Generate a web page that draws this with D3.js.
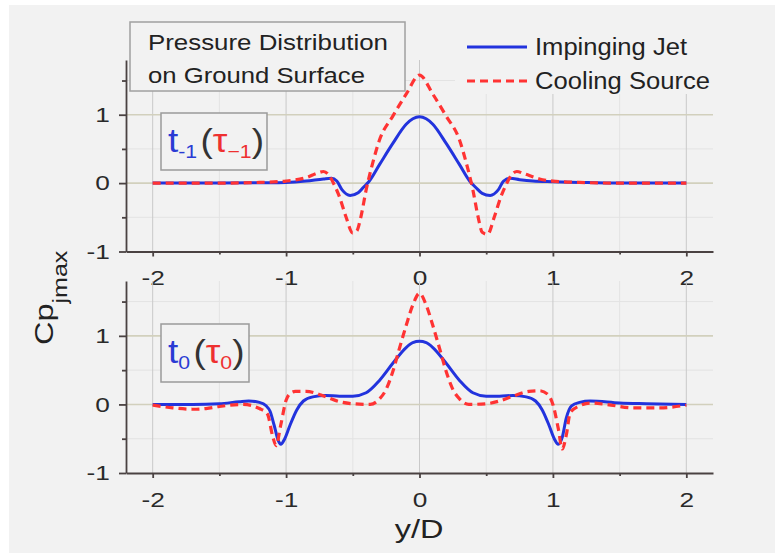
<!DOCTYPE html>
<html><head><meta charset="utf-8">
<script src="https://cdn.jsdelivr.net/npm/d3@7"></script>
<style>
body{margin:0;background:#fff;}
svg{display:block;}
text{font-family:"Liberation Sans",Arial,Helvetica,sans-serif;}
</style>
</head><body>
<svg id="chart" width="775" height="556"></svg>
<script>
// ---------------- data ----------------
const xTicks = [-2, -1, 0, 1, 2];
const xMinorTicks = [-1.5, -0.5, 0.5, 1.5];
const yTicks = [-1, 0, 1];
const yMinorTicks = [-0.5, 0.5, 1.5];
const seriesNames = ["Impinging Jet", "Cooling Source"];
const titleLines = ["Pressure Distribution", "on Ground Surface"];

// top panel t_-1 (tau_-1)
const topJetX  = [-2, -1.5, -1.2, -1.0, -0.85, -0.72, -0.66, -0.62, -0.58, -0.52, -0.46, -0.42, -0.38, -0.3, -0.2, -0.1, -0.05, 0,
                  0.05, 0.1, 0.2, 0.3, 0.38, 0.42, 0.47, 0.53, 0.59, 0.63, 0.68, 0.75, 0.85, 1.0, 1.2, 1.5, 2];
const topJetY  = [0, 0, 0.005, 0.01, 0.03, 0.06, 0.07, 0.03, -0.1, -0.18, -0.14, -0.06, 0.02, 0.27, 0.58, 0.86, 0.94, 0.97,
                  0.94, 0.86, 0.58, 0.27, 0.02, -0.06, -0.15, -0.18, -0.1, 0.03, 0.07, 0.05, 0.03, 0.02, 0.01, 0, 0];
const topCoolX = [-2, -1.5, -1.2, -1.0, -0.85, -0.76, -0.72, -0.68, -0.64, -0.6, -0.55, -0.5, -0.47, -0.44, -0.4, -0.35, -0.3, -0.2, -0.1, 0,
                  0.1, 0.2, 0.3, 0.35, 0.4, 0.44, 0.47, 0.51, 0.56, 0.61, 0.65, 0.69, 0.73, 0.78, 0.9, 1.0, 1.2, 1.5, 2];
const topCoolY = [0, 0, 0.01, 0.03, 0.08, 0.15, 0.17, 0.12, -0.02, -0.2, -0.5, -0.73, -0.7, -0.5, -0.1, 0.3, 0.63, 0.98, 1.3, 1.58,
                  1.3, 0.98, 0.63, 0.3, -0.1, -0.5, -0.72, -0.75, -0.5, -0.2, -0.02, 0.12, 0.17, 0.14, 0.06, 0.03, 0.01, 0, 0];

// bottom panel t_0 (tau_0)
const botJetX  = [-2, -1.7, -1.5, -1.35, -1.28, -1.2, -1.15, -1.12, -1.09, -1.06, -1.04, -1.01, -0.97, -0.92, -0.87, -0.8, -0.7, -0.6, -0.5, -0.4, -0.3, -0.2, -0.1, -0.05, 0,
                  0.05, 0.1, 0.2, 0.3, 0.4, 0.5, 0.6, 0.7, 0.8, 0.87, 0.92, 0.97, 1.01, 1.04, 1.07, 1.1, 1.14, 1.2, 1.28, 1.5, 1.7, 2];
const botJetY  = [0, 0, 0.01, 0.04, 0.05, 0.03, -0.02, -0.1, -0.3, -0.52, -0.58, -0.5, -0.3, -0.08, 0.05, 0.11, 0.13, 0.12, 0.12, 0.17, 0.35, 0.6, 0.83, 0.9, 0.92,
                  0.9, 0.83, 0.6, 0.35, 0.17, 0.12, 0.12, 0.13, 0.11, 0.05, -0.08, -0.3, -0.5, -0.58, -0.48, -0.2, -0.02, 0.03, 0.05, 0.02, 0.01, 0];
const botCoolX = [-2, -1.85, -1.7, -1.6, -1.5, -1.32, -1.2, -1.14, -1.1, -1.075, -1.04, -1.0, -0.97, -0.93, -0.85, -0.7, -0.6, -0.5, -0.37, -0.3, -0.25, -0.2, -0.15, -0.1, -0.05, 0,
                  0.05, 0.1, 0.15, 0.2, 0.25, 0.3, 0.37, 0.5, 0.6, 0.7, 0.82, 0.9, 0.96, 1.0, 1.04, 1.07, 1.1, 1.13, 1.2, 1.28, 1.4, 1.6, 1.8, 2];
const botCoolY = [-0.01, -0.05, -0.07, -0.06, -0.03, 0.0, -0.06, -0.14, -0.47, -0.6, -0.3, 0.06, 0.16, 0.19, 0.19, 0.11, 0.04, 0.01, 0.0, 0.08, 0.22, 0.48, 0.82, 1.15, 1.45, 1.62,
                  1.45, 1.15, 0.82, 0.48, 0.22, 0.08, 0.0, 0.01, 0.05, 0.12, 0.19, 0.2, 0.15, 0.0, -0.35, -0.65, -0.45, -0.12, -0.02, 0.02, 0.0, -0.05, -0.05, -0.01];

// ---------------- drawing ----------------
const svg = d3.select("#chart");
const BG = "#f2f2f2";
const BLUE = "#2233dd", RED = "#ff3333";
const SX = 1.25; // horizontal stretch of the lettering in the original
svg.append("rect").attr("x", 9).attr("y", 5).attr("width", 766).attr("height", 548).attr("fill", BG);

const x = d3.scaleLinear().domain([-2.2, 2.2]).range([126, 713]);
const zip = (xs, ys) => xs.map((v, i) => [v, ys[i]]);

const panels = [
  { y: d3.scaleLinear().domain([-1, 1.8]).range([251.5, 60]),
    jet: zip(topJetX, topJetY), cool: zip(topCoolX, topCoolY), sub1: "-1", sub2: "\u22121",
    box: { x: 161, y: 113, w: 106, h: 57 } },
  { y: d3.scaleLinear().domain([-1, 1.8]).range([473, 281]),
    jet: zip(botJetX, botJetY), cool: zip(botCoolX, botCoolY), sub1: "0", sub2: "0",
    box: { x: 161, y: 324, w: 88, h: 58 } }
];

panels.forEach(p => {
  const y = p.y;
  const g = svg.append("g");
  const [yb, yt] = y.range();
  // minor grid
  g.selectAll(".vm").data(xMinorTicks).join("line")
    .attr("x1", d => x(d)).attr("x2", d => x(d)).attr("y1", yt).attr("y2", yb)
    .attr("stroke", "#e3e3e3").attr("stroke-width", 1);
  g.selectAll(".hm").data(yMinorTicks).join("line")
    .attr("x1", x(-2.2)).attr("x2", x(2.2)).attr("y1", d => y(d)).attr("y2", d => y(d))
    .attr("stroke", "#e3e3e3").attr("stroke-width", 1);
  // major grid
  g.selectAll(".vM").data(xTicks).join("line")
    .attr("x1", d => x(d)).attr("x2", d => x(d)).attr("y1", yt).attr("y2", yb)
    .attr("stroke", "#c9c9c9").attr("stroke-width", 1);
  g.selectAll(".hM").data(yTicks.filter(d => d > -1)).join("line")
    .attr("x1", x(-2.2)).attr("x2", x(2.2)).attr("y1", d => y(d)).attr("y2", d => y(d))
    .attr("stroke", "#d2d0bd").attr("stroke-width", 1.6);

  // label box t(tau)
  g.append("rect").attr("x", p.box.x).attr("y", p.box.y).attr("width", p.box.w).attr("height", p.box.h)
    .attr("fill", BG).attr("stroke", "#9a9a9a").attr("stroke-width", 1.5);
  const t = g.append("text")
    .attr("transform", `translate(${p.box.x + 7},${p.box.y + 39}) scale(1.12,1)`)
    .attr("font-size", 33).attr("fill", "#333");
  t.append("tspan").attr("fill", "#2a3bd4").text("t");
  t.append("tspan").attr("fill", "#2a3bd4").attr("font-size", 19).attr("dy", 6).text(p.sub1);
  t.append("tspan").attr("dy", -6).attr("dx", 3).text("(");
  t.append("tspan").attr("fill", "#ee3030").text("\u03c4");
  t.append("tspan").attr("fill", "#ee3030").attr("font-size", 19).attr("dy", 6).text(p.sub2);
  t.append("tspan").attr("dy", -6).text(")");

  // curves
  const line = d3.line().x(d => x(d[0])).y(d => y(d[1])).curve(d3.curveMonotoneX);
  g.append("path").datum(p.jet).attr("d", line).attr("fill", "none")
    .attr("stroke", BLUE).attr("stroke-width", 3).attr("stroke-linejoin", "round");
  g.append("path").datum(p.cool).attr("d", line).attr("fill", "none")
    .attr("stroke", RED).attr("stroke-width", 3.2).attr("stroke-dasharray", "8,5");

  // axes
  const ax = g.append("g").attr("transform", `translate(0,${yb})`)
    .call(d3.axisBottom(x).tickValues(xTicks).tickFormat(d => String(d)).tickSize(5).tickSizeOuter(0).tickPadding(14));
  const axm = g.append("g").attr("transform", `translate(0,${yb})`)
    .call(d3.axisBottom(x).tickValues(xMinorTicks).tickFormat("").tickSize(3).tickSizeOuter(0));
  const ay = g.append("g").attr("transform", `translate(${x(-2.2)},0)`)
    .call(d3.axisLeft(y).tickValues(yTicks).tickFormat(d => String(d)).tickSize(7).tickSizeOuter(0).tickPadding(6));
  const aym = g.append("g").attr("transform", `translate(${x(-2.2)},0)`)
    .call(d3.axisLeft(y).tickValues(yMinorTicks).tickFormat("").tickSize(4).tickSizeOuter(0));
  [ax, axm, ay, aym].forEach(a => {
    a.selectAll("path,line").attr("stroke", "#4a4242").attr("stroke-width", 1.8);
    a.selectAll("text").attr("fill", "#2a2a2a").attr("font-size", 21)
      .attr("font-family", "'Liberation Sans',Arial,sans-serif")
      .attr("transform", `scale(${SX},1)`);
  });
  axm.select(".domain").remove();
  aym.select(".domain").remove();
});

// title box
const tb = svg.append("g");
tb.append("rect").attr("x", 130).attr("y", 22).attr("width", 275).attr("height", 69)
  .attr("fill", BG).attr("stroke", "#a0a0a0").attr("stroke-width", 1.5);
tb.selectAll("text").data(titleLines).join("text")
  .attr("x", 148).attr("y", (d, i) => 50 + i * 33)
  .attr("font-size", 22).attr("fill", "#222")
  .attr("textLength", (d, i) => [240, 217][i]).attr("lengthAdjust", "spacingAndGlyphs")
  .text(d => d);

// legend
const lg = svg.append("g");
lg.append("rect").attr("x", 455).attr("y", 25).attr("width", 265).attr("height", 69).attr("fill", BG);
const legendY = [47, 81];
seriesNames.forEach((name, i) => {
  lg.append("line").attr("x1", 467).attr("x2", 527).attr("y1", legendY[i]).attr("y2", legendY[i])
    .attr("stroke", i === 0 ? BLUE : RED).attr("stroke-width", i === 0 ? 3 : 3.2)
    .attr("stroke-dasharray", i === 0 ? null : "8,5");
  lg.append("text").attr("x", 535).attr("y", legendY[i] + 8).attr("font-size", 23).attr("fill", "#222")
    .attr("textLength", [152, 175][i]).attr("lengthAdjust", "spacingAndGlyphs")
    .text(name);
});

// axis titles
const yl = svg.append("text").attr("transform", "translate(53,345) rotate(-90) scale(1.25,1)")
  .attr("font-size", 26).attr("fill", "#222");
yl.append("tspan").text("Cp");
yl.append("tspan").attr("font-size", 20).attr("dy", 14).text("jmax");

svg.append("text").attr("transform", `translate(419,538) scale(1.3,1)`).attr("text-anchor", "middle")
  .attr("font-size", 25).attr("fill", "#222").text("y/D");
</script>
</body></html>
